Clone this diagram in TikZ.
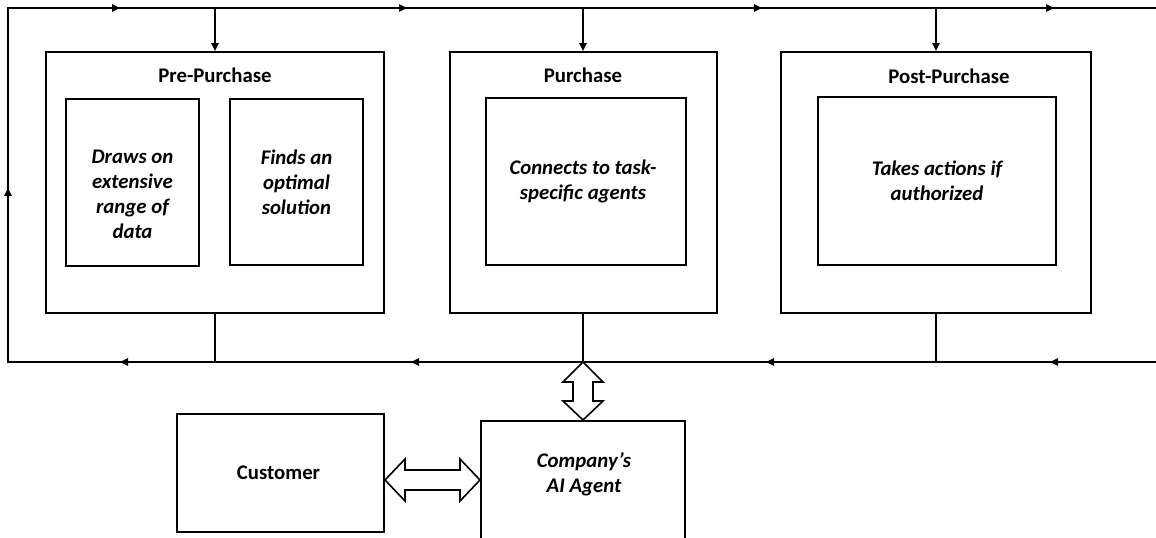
\documentclass[tikz,border=0pt]{standalone}
\usepackage{fontspec}
\setmainfont{Carlito}
\usetikzlibrary{arrows.meta,positioning,fit,calc,decorations.markings}

\begin{document}
\begin{tikzpicture}[x=0.75pt, y=-0.75pt,
  box/.style={draw=black, line width=1.5pt, inner sep=0pt},
  title/.style={font=\fontsize{15.6}{18.8}\selectfont\bfseries, align=center},
  itext/.style={font=\fontsize{15.6}{18.8}\selectfont\bfseries\itshape, align=center},
  arr/.style={-{Triangle[length=6pt, width=5.5pt]}, line width=1.4pt},
  link/.style={line width=1.5pt},
  loopline/.style={line width=1.5pt, postaction={decorate}, decoration={markings,
    mark=at position 79.5pt with {\arrow{Triangle[length=6pt, width=5.5pt]}},
    mark=at position 292.5pt with {\arrow{Triangle[length=6pt, width=5.5pt]}},
    mark=at position 558.75pt with {\arrow{Triangle[length=6pt, width=5.5pt]}},
    mark=at position 777pt with {\arrow{Triangle[length=6pt, width=5.5pt]}},
    mark=at position 991.5pt with {\arrow{Triangle[length=6pt, width=5.5pt]}},
    mark=at position 1210.5pt with {\arrow{Triangle[length=6pt, width=5.5pt]}},
    mark=at position 1425.75pt with {\arrow{Triangle[length=6pt, width=5.5pt]}},
    mark=at position 1692pt with {\arrow{Triangle[length=6pt, width=5.5pt]}},
    mark=at position 1911pt with {\arrow{Triangle[length=6pt, width=5.5pt]}}}},
  dblarr/.style={draw=black, line width=1.2pt, fill=white, line join=miter}
]
  \useasboundingbox (0,0) rectangle (1156,537);

  % stage boxes
  \node[box, fit={(46,52) (384,313)}] (pre) {};
  \node[box, fit={(449.5,52) (716.5,313)}] (pur) {};
  \node[box, fit={(781,52) (1091,313)}] (post) {};
  \node[title] (pretitle) at ($(pre.north)+(0,24)$) {Pre-Purchase};
  \node[title] (purtitle) at ($(pur.north)+(0,24)$) {Purchase};
  \node[title] (posttitle) at (949,76) {Post-Purchase};

  % inner boxes
  \node[box, fit={(66,99) (199,266)}] (data) {};
  \node[box, fit={(230,99) (363,265)}] (solution) {};
  \node[box, fit={(486,98) (686,265)}] (agents) {};
  \node[box, fit={(818,97) (1056,265)}] (actions) {};
  \node[itext] (datatxt) at ($(data.center)+(0,12)$) {Draws on\\extensive\\range of\\data};
  \node[itext] (soltxt) at (solution.center) {Finds an\\optimal\\solution};
  \node[itext] (agenttxt) at ($(agents.center)+(-3,0)$) {Connects to task-\\specific agents};
  \node[itext] (acttxt) at (actions.center) {Takes actions if\\authorized};

  % customer and agent
  \node[box, fit={(177,414) (384,532)}] (cust) {};
  \node[title] (custtxt) at ($(cust.center)+(-2,0)$) {Customer};
  \node[box, fit={(481,421) (685,570)}] (ai) {};
  \node[itext] (aitxt) at (584,474) {Company’s\\AI Agent};

  % feedback loop
  \coordinate (tl) at (8,8);
  \coordinate (tr) at (1156,8);
  \coordinate (bl) at (8,362);
  \coordinate (br) at (1156,362);
  \draw[loopline] (br) -- (bl) -- (tl) -- (tr);

  \coordinate (t1) at (pre.north |- tl);
  \coordinate (t2) at (pur.north |- tl);
  \coordinate (t3) at (post.north |- tl);
  \coordinate (b1) at (pre.south |- bl);
  \coordinate (b2) at (pur.south |- bl);
  \coordinate (b3) at (post.south |- bl);
  \draw[arr] (t1) -- (pre.north);
  \draw[arr] (t2) -- (pur.north);
  \draw[arr] (t3) -- (post.north);
  \draw[link] (pre.south) -- (b1);
  \draw[link] (pur.south) -- (b2);
  \draw[link] (post.south) -- (b3);

  % two-way block arrows
  \draw[dblarr] (b2) -- ($(b2)+(20,20)$) -- ($(b2)+(10,20)$) -- ($(ai.north)+(10,-19)$)
    -- ($(ai.north)+(20,-19)$) -- (ai.north) -- ($(ai.north)+(-20,-19)$)
    -- ($(ai.north)+(-10,-19)$) -- ($(b2)+(-10,20)$) -- ($(b2)+(-20,20)$) -- cycle;
  \coordinate (hl) at ($(cust.east)+(0,7)$);
  \coordinate (hr) at (hl -| ai.west);
  \draw[dblarr] (hl) -- ($(hl)+(20,-21)$) -- ($(hl)+(20,-10)$) -- ($(hr)+(-20,-10)$)
    -- ($(hr)+(-20,-21)$) -- (hr) -- ($(hr)+(-20,21)$) -- ($(hr)+(-20,10)$)
    -- ($(hl)+(20,10)$) -- ($(hl)+(20,21)$) -- cycle;
\end{tikzpicture}
\end{document}
